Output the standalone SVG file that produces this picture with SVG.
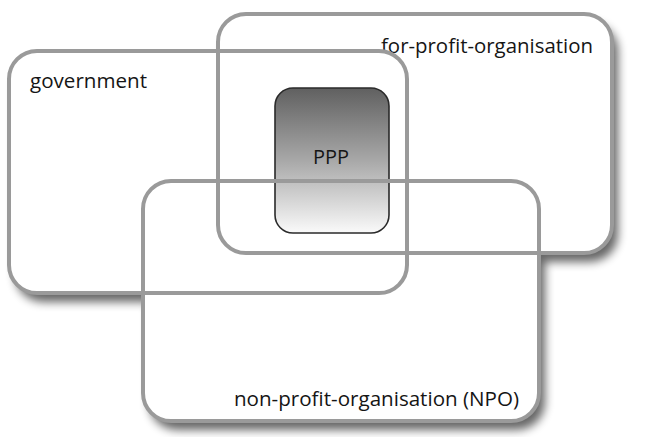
<svg xmlns="http://www.w3.org/2000/svg" width="646" height="437" viewBox="0 0 646 437">
  <defs>
    <filter id="shadow" x="-10%" y="-10%" width="130%" height="140%">
      <feGaussianBlur in="SourceAlpha" stdDeviation="5"/>
      <feOffset dx="6" dy="9" result="blur"/>
      <feComponentTransfer><feFuncA type="linear" slope="0.6"/></feComponentTransfer>
      <feMerge><feMergeNode/><feMergeNode in="SourceGraphic"/></feMerge>
    </filter>
    <linearGradient id="pppFill" x1="0" y1="0" x2="0" y2="1">
      <stop offset="0" stop-color="#606060"/>
      <stop offset="0.5" stop-color="#a8a8a8"/>
      <stop offset="1" stop-color="#fafafa"/>
    </linearGradient>
    <style>
      .back { fill: #ffffff; stroke: none; }
      .frame { fill: none; stroke: #9a9a9a; stroke-width: 4; }
      .label { font-family: "Open Sans", "Noto Sans", sans-serif; font-size: 20.5px; fill: #151515; }
      .ppp { fill: url(#pppFill); stroke: #2a2a2a; stroke-width: 1.6; }
    </style>
  </defs>

  <rect width="646" height="437" fill="#ffffff"/>

  <!-- white backgrounds carrying the drop shadows -->
  <g filter="url(#shadow)">
    <rect class="back" x="218" y="14" width="394" height="239" rx="28"/>
    <rect class="back" x="9" y="51" width="398" height="242" rx="28"/>
    <rect class="back" x="143" y="181" width="396" height="240" rx="28"/>
  </g>

  <g id="for-profit">
    <rect class="frame" x="218" y="14" width="394" height="239" rx="28"/>
    <text class="label" x="381" y="53" textLength="212" lengthAdjust="spacingAndGlyphs">for-profit-organisation</text>
  </g>

  <g id="government">
    <rect class="frame" x="9" y="51" width="398" height="242" rx="28"/>
    <text class="label" x="30" y="88" textLength="117" lengthAdjust="spacingAndGlyphs">government</text>
  </g>

  <g id="ppp">
    <rect class="ppp" x="275" y="88" width="114" height="145" rx="18"/>
    <text class="label" x="313" y="164" textLength="36" lengthAdjust="spacingAndGlyphs">PPP</text>
  </g>

  <g id="npo">
    <rect class="frame" x="143" y="181" width="396" height="240" rx="28"/>
    <text class="label" x="234" y="406" textLength="285" lengthAdjust="spacingAndGlyphs">non-profit-organisation (NPO)</text>
  </g>

  <g id="connectors"/>
</svg>
